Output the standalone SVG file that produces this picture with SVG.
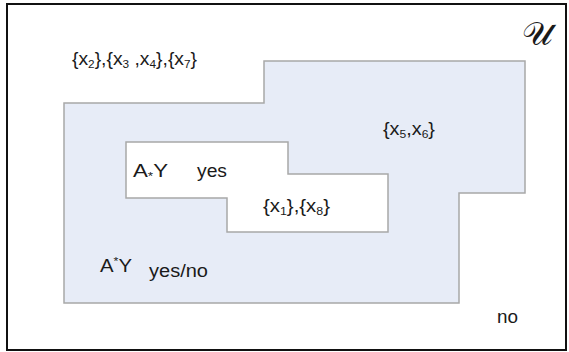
<svg xmlns="http://www.w3.org/2000/svg" width="569" height="352" viewBox="0 0 569 352">
<style>
text{font-family:"Liberation Sans",Arial,sans-serif;font-size:18px;fill:#1a1a1a}
.s{font-size:11px}
.region{stroke:#a8a8a8;stroke-width:1.5}
</style>
<rect x="0" y="0" width="569" height="352" fill="#ffffff"/>
<rect x="7" y="4" width="559" height="346" fill="#ffffff" stroke="#111111" stroke-width="2"/>
<g id="upper-approx">
<polygon class="region" points="64,103 264,103 264,61 525,61 525,193 459,193 459,303 64,303" fill="#e7ecf7"/>
</g>
<g id="lower-approx">
<polygon class="region" points="126,142 288,142 288,174 388,174 388,232 227,232 227,198 126,198" fill="#ffffff"/>
</g>
<g id="labels">
<text x="522" y="45" textLength="31" lengthAdjust="spacingAndGlyphs" style="font-family:'DejaVu Serif','Liberation Serif',serif;font-size:32px">𝒰</text>
<text x="72" y="65" textLength="125" lengthAdjust="spacingAndGlyphs">{x<tspan class="s" dy="3">2</tspan><tspan dy="-3">},{x</tspan><tspan class="s" dy="3">3</tspan><tspan dy="-3"> ,x</tspan><tspan class="s" dy="3">4</tspan><tspan dy="-3">},{x</tspan><tspan class="s" dy="3">7</tspan><tspan dy="-3">}</tspan></text>
<text x="383" y="135" textLength="52" lengthAdjust="spacingAndGlyphs">{x<tspan class="s" dy="3">5</tspan><tspan dy="-3">,x</tspan><tspan class="s" dy="3">6</tspan><tspan dy="-3">}</tspan></text>
<text x="133" y="177" textLength="35" lengthAdjust="spacingAndGlyphs">A<tspan class="s" dy="3">*</tspan><tspan dy="-3">Y</tspan></text>
<text x="197" y="177" textLength="30" lengthAdjust="spacingAndGlyphs">yes</text>
<text x="263" y="212" textLength="67" lengthAdjust="spacingAndGlyphs">{x<tspan class="s" dy="3">1</tspan><tspan dy="-3">},{x</tspan><tspan class="s" dy="3">8</tspan><tspan dy="-3">}</tspan></text>
<text x="100" y="272" textLength="32" lengthAdjust="spacingAndGlyphs">A<tspan class="s" dy="-7">*</tspan><tspan dy="7">Y</tspan></text>
<text x="149" y="277" textLength="59" lengthAdjust="spacingAndGlyphs">yes/no</text>
<text x="497" y="323" textLength="21" lengthAdjust="spacingAndGlyphs">no</text>
</g>
</svg>
